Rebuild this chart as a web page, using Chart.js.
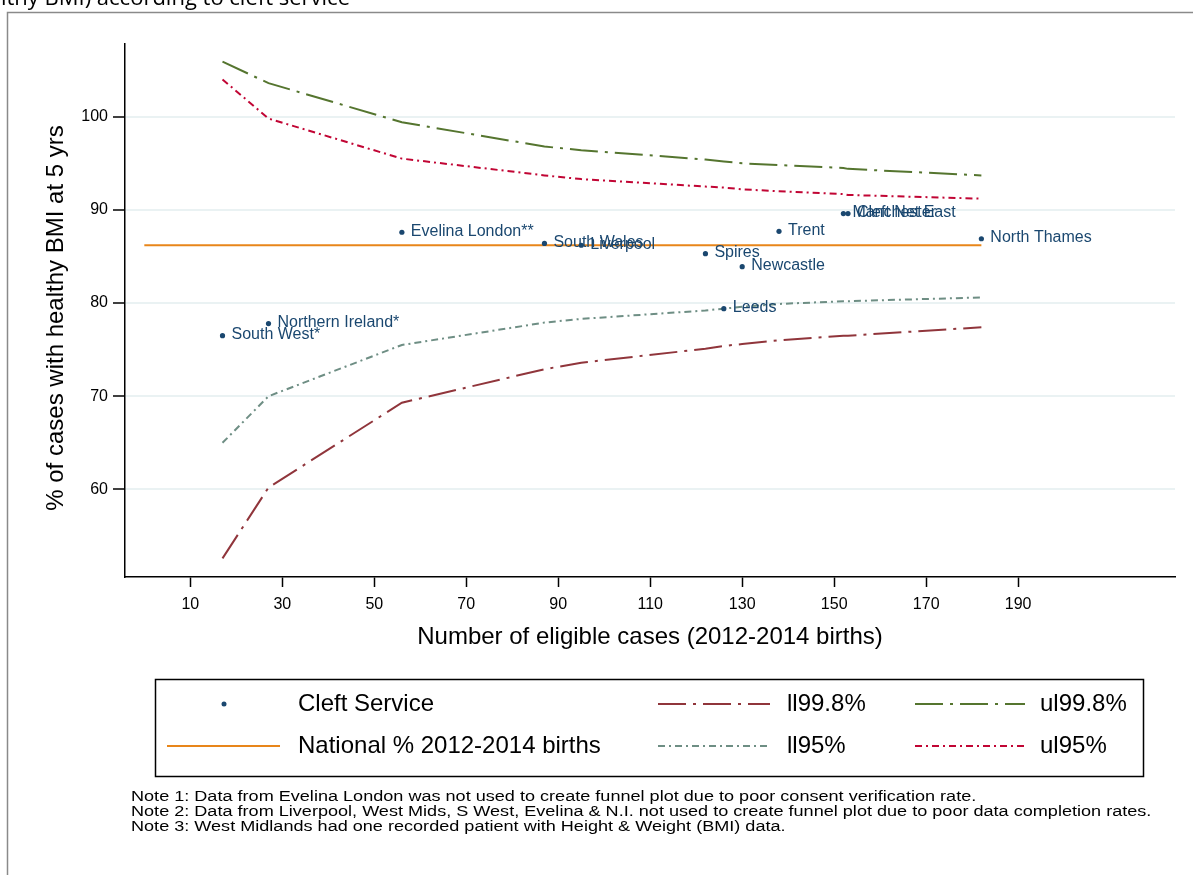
<!DOCTYPE html>
<html><head><meta charset="utf-8">
<script src="https://cdn.jsdelivr.net/npm/chart.js@4.4.1/dist/chart.umd.min.js"></script>
<style>html,body{margin:0;padding:0;background:#fff;overflow:hidden}#wrap{position:relative;width:1193px;height:875px}</style>
</head><body><div id="wrap"><canvas id="c" width="1193" height="875"></canvas></div>
<script>
// ---- data ----
const services = ["South West*","Northern Ireland*","Evelina London**","South Wales","Liverpool","Spires","Leeds","Newcastle","Trent","Manchester","Cleft Net East","North Thames"];
const cases = [17,27,56,87,95,122,126,130,138,152,153,182];
const pctHealthy = [76.5,77.8,87.6,86.4,86.2,85.3,79.4,83.9,87.7,89.6,89.6,86.9];
const funnelN = [17,27,56,87,95,122,126,130,138,152,153,182];
const ll998 = [52.6,60.2,69.3,72.9,73.6,75.1,75.4,75.6,76.0,76.5,76.5,77.4];
const ul998 = [105.9,103.6,99.4,96.8,96.4,95.4,95.2,95.0,94.8,94.5,94.4,93.7];
const ll95 = [65.0,70.0,75.5,77.9,78.3,79.2,79.4,79.6,79.9,80.2,80.2,80.6];
const ul95 = [104.0,99.8,95.5,93.7,93.3,92.5,92.4,92.2,92.0,91.7,91.6,91.2];
const nationalN = [0,182];
const nationalPct = 86.2;
const xTicks = [10,30,50,70,90,110,130,150,170,190];
const yTicks = [60,70,80,90,100];
const legendLabels = ["Cleft Service","ll99.8%","ul99.8%","National % 2012-2014 births","ll95%","ul95%"];
const notes = [
 "Note 1: Data from Evelina London was not used to create funnel plot due to poor consent verification rate.",
 "Note 2: Data from Liverpool, West Mids, S West, Evelina & N.I. not used to create funnel plot due to poor data completion rates.",
 "Note 3: West Midlands had one recorded patient with Height & Weight (BMI) data."
];
const xTitle = "Number of eligible cases (2012-2014 births)";
const yTitle = "% of cases with healthy BMI at 5 yrs";
const topTitle = "healthy BMI) according to cleft service";

// ---- styles ----
const FONT = "'Liberation Sans', Arial, sans-serif";
const C = {navy:"#1a476f", maroon:"#90353b", green:"#55752f", orange:"#e8861a", teal:"#6e8e84", cran:"#c10534"};
const DASH = {ll998:[28,7,3,7], ul998:[28,7,3,7], ll95:[7,4,2,4], ul95:[7,4,2,4]};

const pts = (xs, ys) => xs.map((x,i)=>({x:x, y:ys[i]}));

const extras = {
  id:'extras',
  beforeDraw(chart){
    const ctx = chart.ctx;
    ctx.save();
    ctx.fillStyle = '#fff';
    ctx.fillRect(0,0,chart.width,chart.height);
    ctx.strokeStyle = '#8a8a8a'; ctx.lineWidth = 1.5;
    ctx.beginPath(); ctx.moveTo(7.5,875); ctx.lineTo(7.5,12.5); ctx.lineTo(1193,12.5); ctx.stroke();
    ctx.fillStyle = '#000'; ctx.font = "22px 'Open Sans', sans-serif";
    ctx.textAlign = 'right'; ctx.textBaseline = 'alphabetic';
    ctx.fillText(topTitle, 350, 5);
    ctx.restore();
  },
  afterDraw(chart){
    const ctx = chart.ctx;
    ctx.save();
    // point labels
    const meta = chart.getDatasetMeta(0);
    ctx.fillStyle = C.navy; ctx.font = "16px " + FONT; ctx.textAlign='left'; ctx.textBaseline='middle';
    meta.data.forEach((el,i)=>{ ctx.fillText(services[i], el.x + 9, el.y - 1); });
    // axis titles
    ctx.fillStyle = '#000'; ctx.font = "24px " + FONT; ctx.textAlign='center'; ctx.textBaseline='middle';
    ctx.fillText(xTitle, 650, 637);
    ctx.save(); ctx.translate(56, 318); ctx.rotate(-Math.PI/2); ctx.fillText(yTitle, 0, 0); ctx.restore();
    // legend box
    ctx.strokeStyle = '#000'; ctx.lineWidth = 1.5;
    ctx.strokeRect(155.5, 679.5, 988, 97);
    ctx.font = "24px " + FONT; ctx.textAlign='left'; ctx.fillStyle='#000';
    const r1 = 704, r2 = 746;
    ctx.fillStyle = C.navy; ctx.beginPath(); ctx.arc(224, r1, 2.5, 0, Math.PI*2); ctx.fill();
    ctx.fillStyle = '#000';
    ctx.fillText(legendLabels[0], 298, r1);
    const seg = (x1,x2,y,color,dash)=>{ ctx.save(); ctx.strokeStyle=color; ctx.lineWidth=2; ctx.setLineDash(dash); ctx.beginPath(); ctx.moveTo(x1,y); ctx.lineTo(x2,y); ctx.stroke(); ctx.restore(); };
    seg(658,770,r1,C.maroon,DASH.ll998); ctx.fillText(legendLabels[1], 787, r1);
    seg(915,1025,r1,C.green,DASH.ul998); ctx.fillText(legendLabels[2], 1040, r1);
    seg(167,280,r2,C.orange,[]); ctx.fillText(legendLabels[3], 298, r2);
    seg(658,770,r2,C.teal,DASH.ll95); ctx.fillText(legendLabels[4], 787, r2);
    seg(915,1025,r2,C.cran,DASH.ul95); ctx.fillText(legendLabels[5], 1040, r2);
    // notes (wide rendering as in the reference)
    ctx.font = "16px " + FONT; ctx.fillStyle='#000';
    notes.forEach((t,i)=>{ ctx.save(); ctx.translate(131, 797 + i*15); ctx.scale(1.13, 0.92); ctx.fillText(t, 0, 0); ctx.restore(); });
    ctx.restore();
  }
};

new Chart(document.getElementById('c'), {
  type:'scatter',
  data:{ datasets:[
    {label:legendLabels[0], data:pts(cases,pctHealthy), backgroundColor:C.navy, borderColor:C.navy, pointRadius:2.6, pointBorderWidth:0, order:0},
    {type:'line', label:legendLabels[3], data:pts(nationalN,[nationalPct,nationalPct]), borderColor:C.orange, borderWidth:2, pointRadius:0, fill:false, order:5},
    {type:'line', label:legendLabels[1], data:pts(funnelN,ll998), borderColor:C.maroon, borderWidth:2, borderDash:DASH.ll998, pointRadius:0, fill:false, tension:0, order:4},
    {type:'line', label:legendLabels[2], data:pts(funnelN,ul998), borderColor:C.green, borderWidth:2, borderDash:DASH.ul998, pointRadius:0, fill:false, tension:0, order:4},
    {type:'line', label:legendLabels[4], data:pts(funnelN,ll95), borderColor:C.teal, borderWidth:2, borderDash:DASH.ll95, pointRadius:0, fill:false, tension:0, order:4},
    {type:'line', label:legendLabels[5], data:pts(funnelN,ul95), borderColor:C.cran, borderWidth:2, borderDash:DASH.ul95, pointRadius:0, fill:false, tension:0, order:4}
  ]},
  options:{
    responsive:false, animation:false, devicePixelRatio:1,
    layout:{padding:{left:0, right:18, top:44, bottom:0}},
    plugins:{legend:{display:false}, title:{display:false}, tooltip:{enabled:false}},
    scales:{
      x:{type:'linear', min:-4.2, max:224.1,
        afterBuildTicks:(s)=>{ s.ticks = xTicks.map(v=>({value:v})); },
        afterFit:(s)=>{ s.height = 298; },
        grid:{drawOnChartArea:false, drawTicks:true, tickLength:10, tickColor:'#000', tickWidth:1.5},
        border:{display:true, color:'#000', width:1.5},
        ticks:{color:'#000', font:{family:FONT, size:16}, padding:8, maxRotation:0, autoSkip:false}
      },
      y:{type:'linear', min:50.6, max:107.8,
        afterBuildTicks:(s)=>{ s.ticks = yTicks.map(v=>({value:v})); },
        afterFit:(s)=>{ s.width = 125; },
        grid:{drawOnChartArea:true, color:'#eaf2f3', lineWidth:2, drawTicks:true, tickLength:12, tickColor:'#000', tickWidth:1.5},
        border:{display:true, color:'#000', width:1.5},
        ticks:{color:'#000', font:{family:FONT, size:16}, padding:5, autoSkip:false}
      }
    }
  },
  plugins:[extras]
});
</script></body></html>
